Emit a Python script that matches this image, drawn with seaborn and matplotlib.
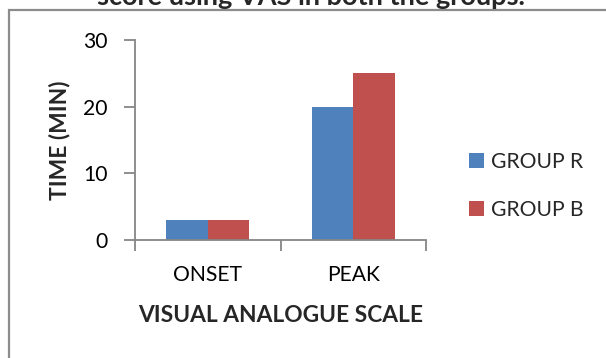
import matplotlib
matplotlib.use("Agg")
import matplotlib.pyplot as plt
import seaborn as sns
import pandas as pd
from matplotlib.patches import Rectangle

categories = ["ONSET", "PEAK"]
groups = ["GROUP R", "GROUP B"]
group_r = [3, 20]
group_b = [3, 25]
y_ticks = [0, 10, 20, 30]

df = pd.DataFrame({
    "cat": categories * 2,
    "grp": [groups[0]] * 2 + [groups[1]] * 2,
    "val": group_r + group_b,
})

sns.set_theme(style="white")
plt.rcParams["font.family"] = ["Lato", "DejaVu Sans"]

W, H = 606, 358
fig = plt.figure(figsize=(W / 100, H / 100), dpi=100)
ax = fig.add_axes([135 / W, 1 - 240 / H, (426 - 135) / W, 200 / H])

palette = {"GROUP R": "#4F81BD", "GROUP B": "#C0504D"}
sns.barplot(data=df, x="cat", y="val", hue="grp", palette=palette, width=0.57,
            gap=0, ax=ax, saturation=1, legend=True, linewidth=0)

gray = "#868686"
ax.set_xlim(-0.5, 1.5)
ax.set_ylim(0, 30)
ax.set_yticks(y_ticks)
ytl = ax.set_yticklabels([str(t) for t in y_ticks], color="black")
ax.set_xticks([-0.5, 0.5, 1.5])
ax.set_xticklabels([])
ax.set_xticks([0, 1], minor=True)
xtl = ax.set_xticklabels(categories, minor=True, color="black")
ax.tick_params(axis="x", which="major", length=8, width=1.3, color=gray, direction="out", bottom=True)
ax.tick_params(axis="y", length=8, width=1.3, color=gray, direction="out", left=True)
for s in ["top", "right"]:
    ax.spines[s].set_visible(False)
for s in ["left", "bottom"]:
    ax.spines[s].set_color(gray)
    ax.spines[s].set_linewidth(1.3)

xlab = ax.set_xlabel("VISUAL ANALOGUE SCALE", fontweight="bold")
ylab = ax.set_ylabel("TIME (MIN)", fontweight="bold")
title = fig.text(311 / W, 1 - 5 / H, "score using VAS in both the groups.", ha="center",
                 va="baseline", fontsize=19, fontweight="bold")

# ---- size fonts to match the reference text widths ----
fig.canvas.draw()
r = fig.canvas.get_renderer()
probe = ax.text(0, 0, "ONSET", fontsize=16)
fs = 16 * 69 / probe.get_window_extent(r).width
probe.remove()
probe = ax.text(0, 0, "VISUAL ANALOGUE SCALE", fontsize=16, fontweight="bold")
fsb = 16 * 285 / probe.get_window_extent(r).width
probe.remove()
title.set_fontsize(19 * 428 / title.get_window_extent(r).width)

for t in ax.get_yticklabels() + ax.get_xticklabels(minor=True):
    t.set_fontsize(fs)
ax.tick_params(axis="y", labelsize=fs)
ax.tick_params(axis="x", which="minor", labelsize=fs, length=0)
xlab.set_fontsize(fsb)
ylab.set_fontsize(fsb)

fs_px = fs * 100 / 72
xpad, ypad = 18.0, 10.0
ax.xaxis.labelpad = 12.0
ax.yaxis.labelpad = 8.0
lx, ly = 469.0, H - 186.0
ls, htp = 1.3, 0.4
hsz = 15 / fs_px


def make_legend():
    return ax.legend(loc="center left", bbox_to_anchor=(lx / W, ly / H),
                     bbox_transform=fig.transFigure, frameon=False, fontsize=fs,
                     handlelength=hsz, handleheight=hsz, labelspacing=ls,
                     handletextpad=htp, borderpad=0, borderaxespad=0)


for _ in range(5):
    ax.tick_params(axis="x", which="minor", pad=xpad)
    ax.tick_params(axis="y", pad=ypad)
    leg = make_legend()
    fig.canvas.draw()
    r = fig.canvas.get_renderer()
    # x tick labels: centre at y=275 from top
    bb = ax.get_xticklabels(minor=True)[0].get_window_extent(r)
    cy = H - (bb.y0 + bb.y1) / 2
    xpad += (275 - cy) * 0.72
    # y tick labels: right edge at x=108
    right = max(t.get_window_extent(r).x1 for t in ax.get_yticklabels())
    ypad += (right - 108) * 0.72
    # x label centre at y=316
    bb = ax.xaxis.label.get_window_extent(r)
    ax.xaxis.labelpad += (316 - (H - (bb.y0 + bb.y1) / 2)) * 0.72
    # y label centre at x=60
    bb = ax.yaxis.label.get_window_extent(r)
    ax.yaxis.labelpad += ((bb.x0 + bb.x1) / 2 - 60) * 0.72
    # legend
    hb = leg.legend_handles[0].get_window_extent(r)
    lx += 469 - hb.x0
    tb = [t.get_window_extent(r) for t in leg.get_texts()]
    c0 = H - (tb[0].y0 + tb[0].y1) / 2
    c1 = H - (tb[1].y0 + tb[1].y1) / 2
    ls += (48 - (c1 - c0)) / fs_px
    ly += (c0 + c1) / 2 - 186
    htp += (491 - tb[0].x0) / fs_px

ax.tick_params(axis="x", which="minor", pad=xpad)
ax.tick_params(axis="y", pad=ypad)
leg = make_legend()

fig.patches.append(Rectangle((9 / W, -0.1), 1.2, 1.1 - 10 / H, transform=fig.transFigure,
                             fill=False, edgecolor="#8c8c8c", linewidth=1.6))

fig.savefig("out.png", dpi=100)
